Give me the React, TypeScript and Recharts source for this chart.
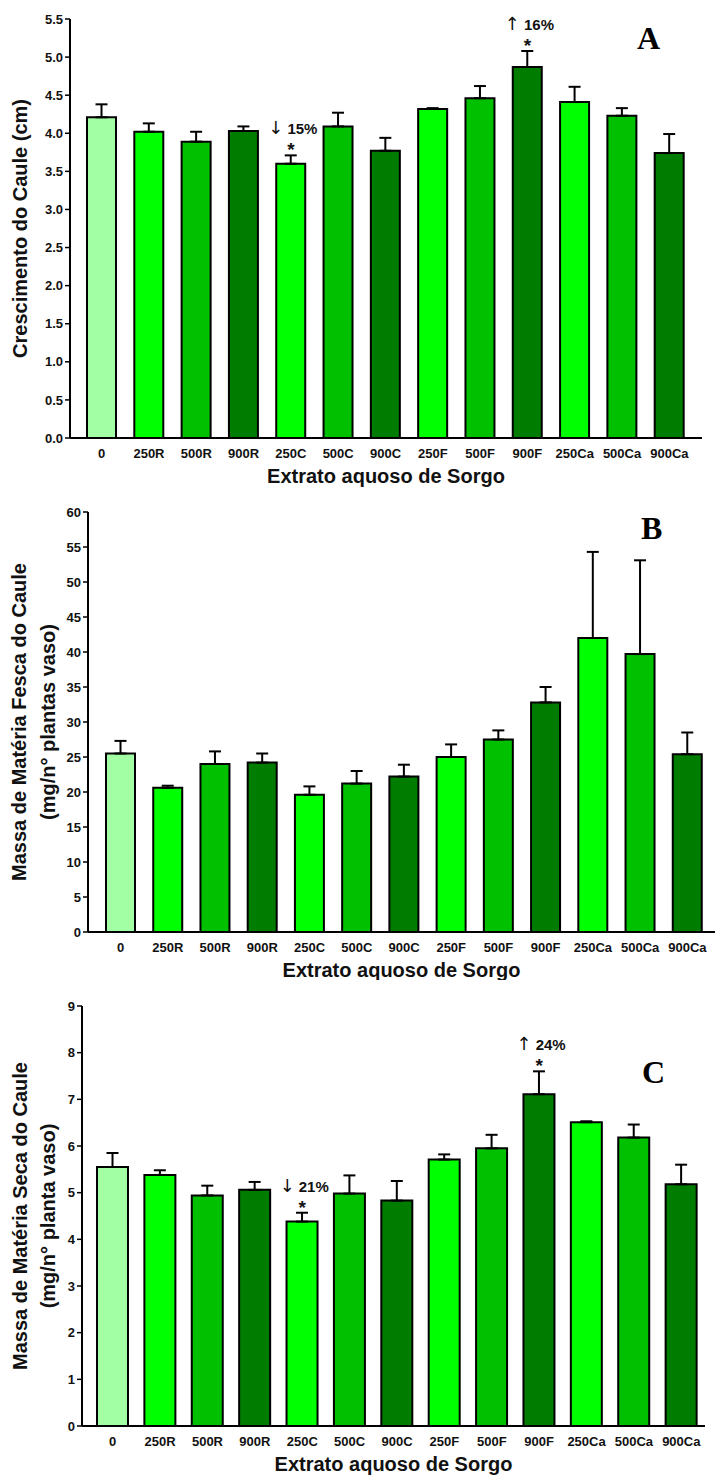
import { Bar, BarChart, Cell, ErrorBar, Label, ReferenceDot, XAxis, YAxis } from "recharts";

const categories = ["0", "250R", "500R", "900R", "250C", "500C", "900C", "250F", "500F", "900F", "250Ca", "500Ca", "900Ca"];
const barColors = ["#a3ffa3", "#00ff00", "#00c000", "#007c00", "#00ff00", "#00c000", "#007c00", "#00ff00", "#00c000", "#007c00", "#00ff00", "#00c000", "#007c00"];

// A - crescimento do caule (cm)
const growth = [4.21, 4.02, 3.89, 4.03, 3.6, 4.09, 3.77, 4.32, 4.46, 4.87, 4.41, 4.23, 3.74];
const growthErr = [0.17, 0.11, 0.13, 0.06, 0.11, 0.18, 0.17, 0.01, 0.16, 0.21, 0.2, 0.1, 0.25];
const growthArrows = ["", "", "", "", "↓", "", "", "", "", "↑", "", "", ""];
const growthMarks = ["", "", "", "", "15%", "", "", "", "", "16%", "", "", ""];
const growthTicks = [0, 0.5, 1, 1.5, 2, 2.5, 3, 3.5, 4, 4.5, 5, 5.5];

// B - massa fresca
const fresh = [25.5, 20.6, 24.0, 24.2, 19.6, 21.2, 22.2, 25.0, 27.5, 32.8, 42.0, 39.7, 25.4];
const freshErr = [1.8, 0.3, 1.8, 1.3, 1.2, 1.8, 1.7, 1.8, 1.3, 2.2, 12.3, 13.4, 3.1];
const freshArrows = ["", "", "", "", "", "", "", "", "", "", "", "", ""];
const freshMarks = ["", "", "", "", "", "", "", "", "", "", "", "", ""];
const freshTicks = [0, 5, 10, 15, 20, 25, 30, 35, 40, 45, 50, 55, 60];

// C - massa seca
const dry = [5.55, 5.38, 4.94, 5.06, 4.38, 4.98, 4.83, 5.71, 5.95, 7.11, 6.51, 6.18, 5.18];
const dryErr = [0.3, 0.1, 0.21, 0.17, 0.19, 0.39, 0.42, 0.11, 0.29, 0.49, 0.02, 0.28, 0.42];
const dryArrows = ["", "", "", "", "↓", "", "", "", "", "↑", "", "", ""];
const dryMarks = ["", "", "", "", "21%", "", "", "", "", "24%", "", "", ""];
const dryTicks = [0, 1, 2, 3, 4, 5, 6, 7, 8, 9];

const FONT = "'Liberation Sans', Arial, Helvetica, sans-serif";

type PanelProps = {
  top: number;
  height: number;
  values: number[];
  errors: number[];
  arrows: string[];
  marks: string[];
  ticks: number[];
  tickFmt: (v: number) => string;
  yWidth: number;
  marginTop: number;
  marginRight: number;
  xHeight: number;
  padLeft: number;
  padRight: number;
  barSize: number;
  yTitle: string[];
  yTitleX: number[];
  letter: string;
  letterX: number;
  letterY: number;
};

function Mark({ cx, cy, arrow, text }: { cx: number; cy: number; arrow: string; text: string }) {
  return (
    <g>
      <text x={cx + 2} y={cy - 21} textAnchor="middle" fontFamily={FONT} fontWeight="bold" fontSize={15} fill="#111">
        <tspan fontFamily="'DejaVu Sans', sans-serif" fontWeight="normal" fontSize={18}>
          {arrow}
        </tspan>
        <tspan dx={4}>{text}</tspan>
      </text>
      <text x={cx} y={cy + 1} textAnchor="middle" fontFamily={FONT} fontWeight="bold" fontSize={19} fill="#111">
        *
      </text>
    </g>
  );
}

function Panel(p: PanelProps) {
  const data = categories.map((name, i) => ({ name, value: p.values[i], err: [0, p.errors[i]] }));
  const max = p.ticks[p.ticks.length - 1];

  return (
    <div style={{ position: "absolute", left: 0, top: p.top, width: 715, height: p.height }}>
      <BarChart
        width={715}
        height={p.height}
        data={data}
        margin={{ top: p.marginTop, right: p.marginRight, left: 0, bottom: 0 }}
      >
        <XAxis
          dataKey="name"
          interval={0}
          height={p.xHeight}
          tickLine={false}
          tickMargin={5}
          axisLine={{ stroke: "#000", strokeWidth: 2 }}
          padding={{ left: p.padLeft, right: p.padRight }}
          tick={{ fill: "#111", fontSize: 13, fontWeight: "bold", fontFamily: FONT }}
        >
          <Label
            content={(props: any) => {
              const vb = props.viewBox;
              return (
                <text
                  x={vb.x + vb.width / 2}
                  y={vb.y + 38}
                  textAnchor="middle"
                  dominantBaseline="central"
                  fontFamily={FONT}
                  fontWeight="bold"
                  fontSize={20}
                  fill="#111"
                >
                  Extrato aquoso de Sorgo
                </text>
              );
            }}
          />
        </XAxis>
        <YAxis
          width={p.yWidth}
          domain={[0, max]}
          ticks={p.ticks}
          tickFormatter={p.tickFmt}
          tickSize={5}
          tickMargin={2}
          axisLine={{ stroke: "#000", strokeWidth: 2 }}
          tickLine={{ stroke: "#000", strokeWidth: 1.5 }}
          tick={{ fill: "#111", fontSize: 13, fontWeight: "bold", fontFamily: FONT }}
        >
          <Label
            content={(props: any) => {
              const vb = props.viewBox;
              const cy = vb.y + vb.height / 2;
              return (
                <g>
                  {p.yTitle.map((line, i) => (
                    <text
                      key={i}
                      x={p.yTitleX[i]}
                      y={cy}
                      transform={`rotate(-90 ${p.yTitleX[i]} ${cy})`}
                      textAnchor="middle"
                      dominantBaseline="central"
                      fontFamily={FONT}
                      fontWeight="bold"
                      fontSize={20}
                      fill="#111"
                    >
                      {line}
                    </text>
                  ))}
                </g>
              );
            }}
          />
        </YAxis>
        <Bar dataKey="value" barSize={p.barSize} stroke="#000" strokeWidth={2} isAnimationActive={false}>
          {data.map((d, i) => (
            <Cell key={d.name} fill={barColors[i]} />
          ))}
          <ErrorBar dataKey="err" direction="y" width={6} stroke="#000" strokeWidth={2} isAnimationActive={false} />
        </Bar>
        {p.marks.map((m, i) =>
          m ? (
            <ReferenceDot
              key={categories[i]}
              x={categories[i]}
              y={p.values[i] + p.errors[i]}
              r={0}
              ifOverflow="visible"
              shape={(s: any) => <Mark cx={s.cx} cy={s.cy} arrow={p.arrows[i]} text={m} />}
            />
          ) : null
        )}
      </BarChart>
      <svg width={715} height={p.height} style={{ position: "absolute", left: 0, top: 0, pointerEvents: "none" }}>
        <text x={p.letterX} y={p.letterY} fontFamily="'Liberation Serif', 'Times New Roman', serif" fontWeight="bold" fontSize={32} fill="#000">
          {p.letter}
        </text>
      </svg>
    </div>
  );
}

export default function App() {
  return (
    <div style={{ position: "absolute", left: 0, top: 0, width: 715, height: 1475, background: "#fff" }}>
      <Panel
        top={0}
        height={490}
        values={growth}
        errors={growthErr}
        arrows={growthArrows}
        marks={growthMarks}
        ticks={growthTicks}
        tickFmt={(v) => v.toFixed(1)}
        yWidth={70}
        marginTop={19}
        marginRight={13}
        xHeight={52}
        padLeft={8}
        padRight={9}
        barSize={29}
        yTitle={["Crescimento do Caule (cm)"]}
        yTitleX={[20]}
        letter="A"
        letterX={637}
        letterY={49}
      />
      <Panel
        top={490}
        height={490}
        values={fresh}
        errors={freshErr}
        arrows={freshArrows}
        marks={freshMarks}
        ticks={freshTicks}
        tickFmt={(v) => String(v)}
        yWidth={88}
        marginTop={22}
        marginRight={0}
        xHeight={48}
        padLeft={9}
        padRight={4}
        barSize={29}
        yTitle={["Massa de Matéria Fesca do Caule", "(mg/n° plantas vaso)"]}
        yTitleX={[19, 48]}
        letter="B"
        letterX={641}
        letterY={49}
      />
      <Panel
        top={980}
        height={495}
        values={dry}
        errors={dryErr}
        arrows={dryArrows}
        marks={dryMarks}
        ticks={dryTicks}
        tickFmt={(v) => String(v)}
        yWidth={82}
        marginTop={26}
        marginRight={10}
        xHeight={49}
        padLeft={7}
        padRight={0}
        barSize={31}
        yTitle={["Massa de Matéria Seca do Caule", "(mg/n° planta vaso)"]}
        yTitleX={[20, 48]}
        letter="C"
        letterX={642}
        letterY={103}
      />
    </div>
  );
}
